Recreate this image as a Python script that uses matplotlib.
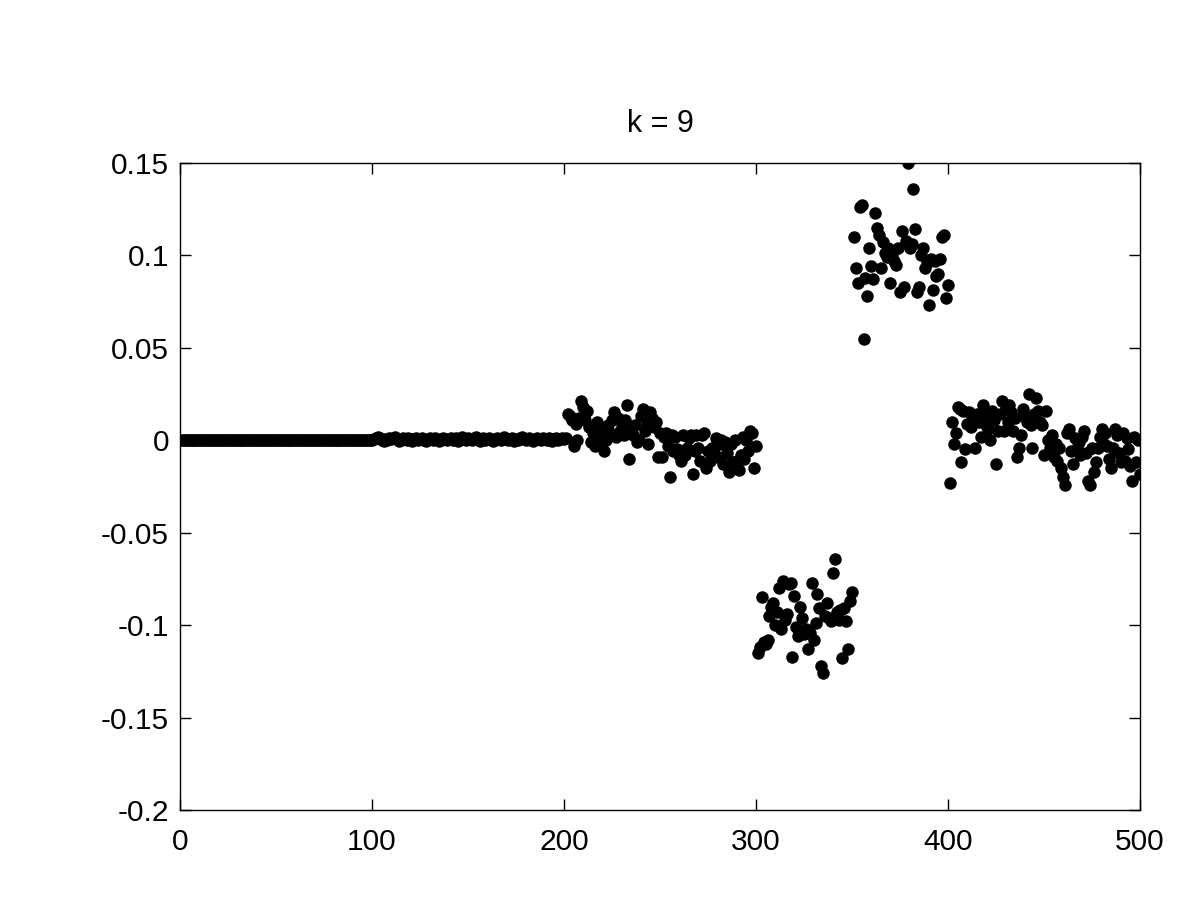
import numpy as np
import matplotlib.pyplot as plt

plt.rcParams['font.family'] = ['Liberation Sans', 'DejaVu Sans']

title = "k = 9"

# values for index 1..100 (flat at zero)
seg_flat = [
    0, 0, 0, 0, 0, 0, 0, 0, 0, 0, 0, 0, 0, 0, 0, 0, 0, 0, 0, 0,
    0, 0, 0, 0, 0, 0, 0, 0, 0, 0, 0, 0, 0, 0, 0, 0, 0, 0, 0, 0,
    0, 0, 0, 0, 0, 0, 0, 0, 0, 0, 0, 0, 0, 0, 0, 0, 0, 0, 0, 0,
    0, 0, 0, 0, 0, 0, 0, 0, 0, 0, 0, 0, 0, 0, 0, 0, 0, 0, 0, 0,
    0, 0, 0, 0, 0, 0, 0, 0, 0, 0, 0, 0, 0, 0, 0, 0, 0, 0, 0, 0,
]

# index 101..200
seg_low = [
    0.0005, 0.0010, 0.0020, 0.0010, 0.0000, -0.0005, 0.0005, 0.0000, 0.0010, 0.0005,
    0.0010, 0.0015, 0.0005, -0.0005, 0.0000, 0.0010, 0.0005, 0.0000, 0.0010, 0.0005,
    -0.0005, 0.0005, 0.0010, 0.0000, 0.0005, 0.0010, 0.0000, -0.0005, 0.0005, 0.0010,
    0.0005, 0.0000, 0.0010, 0.0005, -0.0005, 0.0000, 0.0010, 0.0005, 0.0000, 0.0005,
    0.0010, 0.0000, 0.0005, 0.0010, -0.0005, 0.0005, 0.0015, 0.0005, 0.0000, 0.0010,
    0.0005, 0.0000, 0.0010, 0.0015, 0.0005, -0.0005, 0.0005, 0.0010, 0.0000, 0.0005,
    0.0010, 0.0005, -0.0005, 0.0000, 0.0010, 0.0005, 0.0000, 0.0010, 0.0015, 0.0005,
    0.0000, 0.0005, 0.0010, -0.0005, 0.0005, 0.0000, 0.0010, 0.0015, 0.0005, 0.0000,
    0.0005, 0.0010, 0.0000, -0.0005, 0.0005, 0.0010, 0.0005, 0.0000, 0.0010, 0.0005,
    0.0000, 0.0010, 0.0005, -0.0005, 0.0005, 0.0010, 0.0000, 0.0005, 0.0010, 0.0005,
]

# index 201..300
seg_a = [
    0.001, 0.014, 0.013, 0.011, -0.003, 0.009, 0.000, 0.012, 0.021, 0.018,
    0.011, 0.016, 0.007, -0.001, 0.004, -0.003, 0.010, 0.000, 0.002, 0.006,
    -0.006, 0.000, 0.008, 0.004, 0.011, 0.015, 0.002, 0.012, 0.005, 0.009,
    0.003, 0.011, 0.019, -0.010, 0.006, 0.003, 0.008, -0.001, 0.000, 0.013,
    0.017, 0.005, 0.009, -0.002, 0.015, 0.012, 0.007, 0.010, -0.009, 0.004,
    -0.009, 0.002, 0.004, -0.003, -0.020, 0.003, -0.006, 0.002, -0.005, -0.008,
    -0.011, 0.003, -0.008, -0.004, 0.001, 0.003, -0.018, -0.006, 0.003, -0.004,
    -0.011, 0.003, 0.004, -0.015, -0.006, -0.011, -0.004, -0.007, 0.001, -0.009,
    -0.002, 0.000, -0.013, -0.001, -0.007, -0.017, -0.002, -0.012, 0.000, -0.011,
    -0.016, -0.008, 0.002, -0.010, 0.000, -0.006, 0.005, 0.004, -0.015, -0.003,
]

# index 301..350
seg_b = [
    -0.115, -0.112, -0.085, -0.109, -0.110, -0.108, -0.095, -0.090, -0.088, -0.100,
    -0.093, -0.080, -0.102, -0.076, -0.097, -0.094, -0.078, -0.077, -0.117, -0.084,
    -0.101, -0.106, -0.090, -0.096, -0.105, -0.102, -0.113, -0.104, -0.077, -0.108,
    -0.099, -0.083, -0.091, -0.122, -0.126, -0.095, -0.088, -0.096, -0.098, -0.072,
    -0.064, -0.093, -0.097, -0.092, -0.118, -0.091, -0.098, -0.113, -0.087, -0.082,
]

# index 351..400
seg_c = [
    0.110, 0.093, 0.085, 0.126, 0.127, 0.055, 0.088, 0.078, 0.104, 0.094,
    0.087, 0.123, 0.115, 0.111, 0.093, 0.107, 0.101, 0.099, 0.104, 0.085,
    0.100, 0.097, 0.095, 0.104, 0.080, 0.113, 0.083, 0.108, 0.150, 0.104,
    0.106, 0.136, 0.114, 0.080, 0.083, 0.100, 0.104, 0.093, 0.096, 0.073,
    0.098, 0.081, 0.097, 0.089, 0.090, 0.098, 0.110, 0.111, 0.077, 0.084,
]

# index 401..500
seg_d = [
    -0.023, 0.010, -0.002, 0.004, 0.018, 0.017, -0.012, 0.016, -0.005, 0.009,
    0.015, 0.007, 0.012, -0.004, 0.014, 0.010, 0.002, 0.019, 0.013, 0.008,
    0.006, 0.000, 0.016, 0.011, -0.013, 0.005, 0.014, 0.021, 0.005, 0.018,
    0.010, 0.019, 0.015, 0.005, 0.012, -0.009, -0.004, 0.003, 0.017, 0.013,
    0.010, 0.025, 0.008, -0.004, 0.014, 0.023, 0.016, 0.010, 0.008, -0.008,
    0.016, 0.000, -0.004, 0.003, -0.009, -0.002, -0.011, -0.004, -0.015, -0.020,
    -0.024, 0.004, 0.006, -0.006, -0.013, 0.001, -0.004, -0.001, -0.008, 0.002,
    0.005, -0.007, -0.022, -0.024, -0.004, -0.017, -0.012, -0.004, 0.002, 0.006,
    -0.002, 0.004, -0.003, -0.010, -0.015, -0.004, 0.006, 0.003, -0.007, -0.012,
    0.004, -0.011, 0.001, -0.005, -0.014, -0.022, 0.002, -0.012, 0.000, -0.018,
]

values = np.array(seg_flat + seg_low + seg_a + seg_b + seg_c + seg_d, dtype=float)
index = np.arange(1, len(values) + 1)

x_ticks = [0, 100, 200, 300, 400, 500]
y_ticks = [-0.2, -0.15, -0.1, -0.05, 0, 0.05, 0.1, 0.15]
y_labels = ['-0.2', '-0.15', '-0.1', '-0.05', '0', '0.05', '0.1', '0.15']

fig = plt.figure(figsize=(12, 9), dpi=100)
ax = fig.add_axes([0.15, 0.1, 0.8, 0.719])

ax.plot(index, values, 'o', color='black', markersize=9, markeredgewidth=0)

ax.set_xlim(0, 500)
ax.set_ylim(-0.2, 0.15)
ax.set_xticks(x_ticks)
ax.set_xticklabels([str(t) for t in x_ticks])
ax.set_yticks(y_ticks)
ax.set_yticklabels(y_labels)
ax.tick_params(direction='in', top=True, right=True, length=8, width=1,
               labelsize=21.5)
ax.tick_params(axis='x', pad=13)
ax.tick_params(axis='y', pad=8)
for side in ax.spines.values():
    side.set_linewidth(1)

ax.set_title(title, fontsize=22, pad=22)

fig.savefig('out.png', dpi=100)
plt.close(fig)
